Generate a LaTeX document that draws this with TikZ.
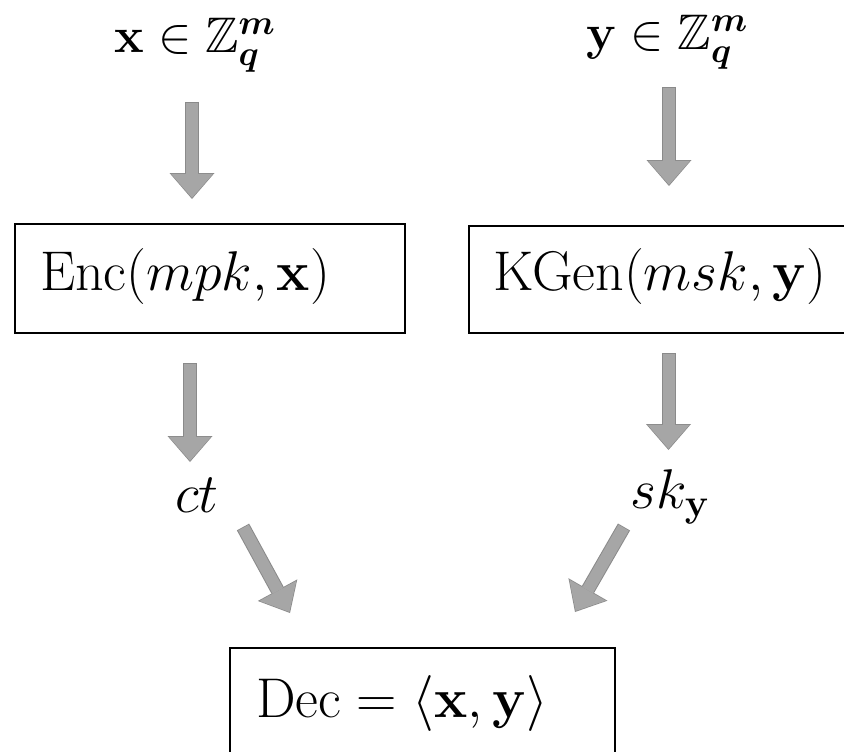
\RequirePackage{fix-cm}
\documentclass[tikz,border=0pt]{standalone}
\usepackage{amsmath,amssymb,bm}
\usetikzlibrary{arrows.meta}
\definecolor{arrowfill}{HTML}{A6A6A6}
\definecolor{arrowedge}{HTML}{8A8A8A}
\tikzset{
  txt/.style={font=\fontsize{56}{64}\selectfont, inner sep=0pt, anchor=base},
  toptxt/.style={font=\fontsize{50}{60}\selectfont, inner sep=0pt, anchor=base},
  boxnode/.style={draw=black, line width=2.6pt, inner sep=0pt},
  barrow/.style={draw=arrowfill, line width=12pt, shorten >=1.2pt, shorten <=0.8pt,
    -{Triangle[width=42pt,length=24pt,line width=0pt]},
    preaction={draw=arrowedge, line width=14pt, shorten >=0pt, shorten <=0pt,
      -{Triangle[width=45pt,length=26pt,line width=0pt]}}}
}
\begin{document}
\begin{tikzpicture}[x=1pt,y=-1pt]
\useasboundingbox (0,0) rectangle (844,752);
% boxes
\node[boxnode, minimum width=390pt, minimum height=109pt] (encbox) at (210,278.5) {};
\node[boxnode, minimum width=381pt, minimum height=107pt] (kgenbox) at (659.5,279.5) {};
\node[boxnode, minimum width=385pt, minimum height=122pt] (decbox) at (422.5,709) {};
% texts
\node[toptxt] (xlab) at (195,53) {$\mathbf{x}\in\mathbb{Z}_{\bm{q}}^{\bm{m}}$};
\node[toptxt] (ylab) at (667,50) {$\mathbf{y}\in\mathbb{Z}_{\bm{q}}^{\bm{m}}$};
\node[txt] (enc) at (185,290) {$\mathrm{Enc}(mpk,\mathbf{x})$};
\node[txt] (kgen) at (660,290) {$\mathrm{KGen}(msk,\mathbf{y})$};
\node[txt] (ct) at (197,512) {$ct$};
\node[txt] (sky) at (670,508) {$sk_{\mathbf{y}}$};
\node[txt] (dec) at (402,717) {$\mathrm{Dec}=\langle\mathbf{x},\mathbf{y}\rangle$};
% arrow end points
\coordinate (a1s) at (192,102); \coordinate (a1e) at (192,199);
\coordinate (a2s) at (669,87);  \coordinate (a2e) at (669,186);
\coordinate (a3s) at (190,363); \coordinate (a3e) at (190,462);
\coordinate (a4s) at (668.5,353); \coordinate (a4e) at (668.5,450);
\coordinate (a5s) at (243,527); \coordinate (a5e) at (290,613);
\coordinate (a6s) at (624,527); \coordinate (a6e) at (575,612);
\draw[barrow] (a1s) -- (a1e);
\draw[barrow] (a2s) -- (a2e);
\draw[barrow] (a3s) -- (a3e);
\draw[barrow] (a4s) -- (a4e);
\draw[barrow] (a5s) -- (a5e);
\draw[barrow] (a6s) -- (a6e);
\end{tikzpicture}
\end{document}
